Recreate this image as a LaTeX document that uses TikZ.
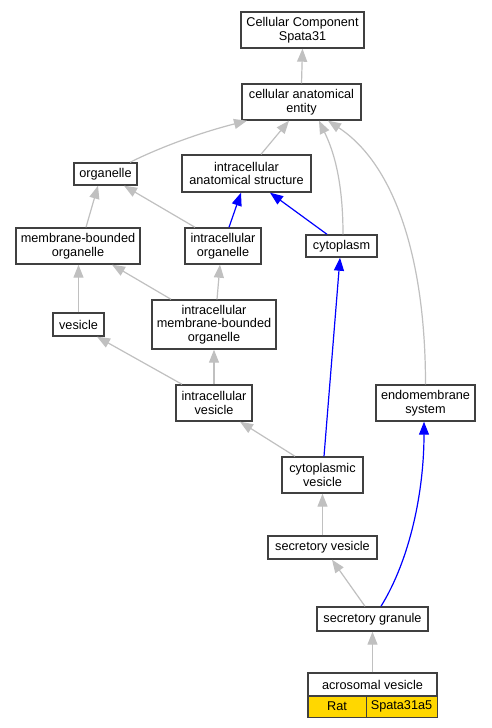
\documentclass[tikz,border=0pt]{standalone}
\usepackage{fontspec}
\setmainfont{Liberation Sans}
\usetikzlibrary{arrows.meta}
\definecolor{boxline}{HTML}{404040}
\definecolor{edgegray}{HTML}{C0C0C0}
\definecolor{edgeblue}{HTML}{0000FF}
\definecolor{gold}{HTML}{FFD700}
\begin{document}
\begin{tikzpicture}[x=1pt,y=-1pt,
  every node/.style={font=\fontsize{12.7}{13.5}\selectfont},
  term/.style={draw=boxline, line width=1.4pt, fill=white, align=center, inner sep=0pt},
  isa/.style={draw=edgegray, line width=1.2pt, -{Triangle[length=13pt,width=10pt]}},
  partof/.style={draw=edgeblue, line width=1.2pt, -{Triangle[length=13pt,width=10pt]}}]
\useasboundingbox (0,0) rectangle (491,728);
\fill[white] (0,0) rectangle (491,728);

\node[term, minimum width=123pt, minimum height=36pt] (cc) at (302.5,30) {Cellular Component\\Spata31};
\node[term, minimum width=119pt, minimum height=36pt] (cae) at (301.5,102) {cellular anatomical\\entity};
\node[term, minimum width=63pt, minimum height=22pt] (org) at (105.5,174) {organelle};
\node[term, minimum width=129pt, minimum height=37pt] (ias) at (246.5,173.5) {intracellular\\anatomical structure};
\node[term, minimum width=124pt, minimum height=36pt] (mbo) at (78,246) {membrane-bounded\\organelle};
\node[term, minimum width=76pt, minimum height=36pt] (io) at (223,246) {intracellular\\organelle};
\node[term, minimum width=71pt, minimum height=22pt] (cyto) at (341.5,246) {cytoplasm};
\node[term, minimum width=51pt, minimum height=23pt] (ves) at (78.5,324.5) {vesicle};
\node[term, minimum width=124pt, minimum height=49pt] (imbo) at (214,324.5) {intracellular\\membrane-bounded\\organelle};
\node[term, minimum width=76pt, minimum height=36pt] (iv) at (214,403) {intracellular\\vesicle};
\node[term, minimum width=99pt, minimum height=36pt] (endo) at (425.5,403) {endomembrane\\system};
\node[term, minimum width=81pt, minimum height=36pt] (cv) at (322.5,475) {cytoplasmic\\vesicle};
\node[term, minimum width=109pt, minimum height=23pt] (sv) at (322.5,547.5) {secretory vesicle};
\node[term, minimum width=111pt, minimum height=24pt] (sg) at (372.5,619) {secretory granule};
\node[term, minimum width=129pt, minimum height=23pt] (av) at (372.5,684.5) {acrosomal vesicle};
\node[term, fill=gold, line width=1pt, minimum width=58pt, minimum height=21pt] (rat) at (337,706.5) {Rat};
\node[term, fill=gold, line width=1pt, minimum width=71pt, minimum height=21pt] (sp) at (401.5,706.5) {Spata31a5};
\draw[boxline, line width=1.4pt] (av.north west) rectangle (sp.south east);

% is_a edges (gray)
\draw[isa] (cae.north) -- (cc.south);
\draw[isa] ([xshift=24.5pt]org.north) .. controls +(30,-15) and +(-47,12) .. ([xshift=-54.5pt]cae.south);
\draw[isa] ([xshift=14.5pt]ias.north) -- ([xshift=-12.5pt]cae.south);
\draw[isa] ([xshift=1.5pt]cyto.north) .. controls +(0,-60) and +(12,25) .. ([xshift=17.5pt]cae.south);
\draw[isa] (endo.north) .. controls +(0,-125) and +(67,44) .. ([xshift=26.5pt]cae.south);
\draw[isa] ([xshift=8pt]mbo.north) -- ([xshift=-7.5pt]org.south);
\draw[isa] ([xshift=-28pt]io.north) -- ([xshift=18.5pt]org.south);
\draw[isa] (ves.north) -- (ves.north |- mbo.south);
\draw[isa] ([xshift=-43pt]imbo.north) -- ([xshift=34pt]mbo.south);
\draw[isa] ([xshift=3pt]imbo.north) -- ([xshift=-3pt]io.south);
\draw[isa] ([xshift=-32pt]iv.north) -- ([xshift=18.5pt]ves.south);
\draw[isa] (iv.north) -- (imbo.south);
\draw[isa] ([xshift=-27.5pt]cv.north) -- ([xshift=26pt]iv.south);
\draw[isa] (sv.north) -- (cv.south);
\draw[isa] ([xshift=-7.5pt]sg.north) -- ([xshift=9.5pt]sv.south);
\draw[isa] (av.north) -- (sg.south);

% part_of edges (blue)
\draw[partof] ([xshift=6pt]io.north) -- ([xshift=-5.5pt]ias.south);
\draw[partof] ([xshift=-14.5pt]cyto.north) -- ([xshift=23.5pt]ias.south);
\draw[partof] ([xshift=1.5pt]cv.north) -- ([xshift=-1.5pt]cyto.south);
\draw[partof] ([xshift=8.5pt]sg.north) .. controls +(29,-47) and +(0,70) .. ([xshift=-1.5pt]endo.south);
\end{tikzpicture}
\end{document}
